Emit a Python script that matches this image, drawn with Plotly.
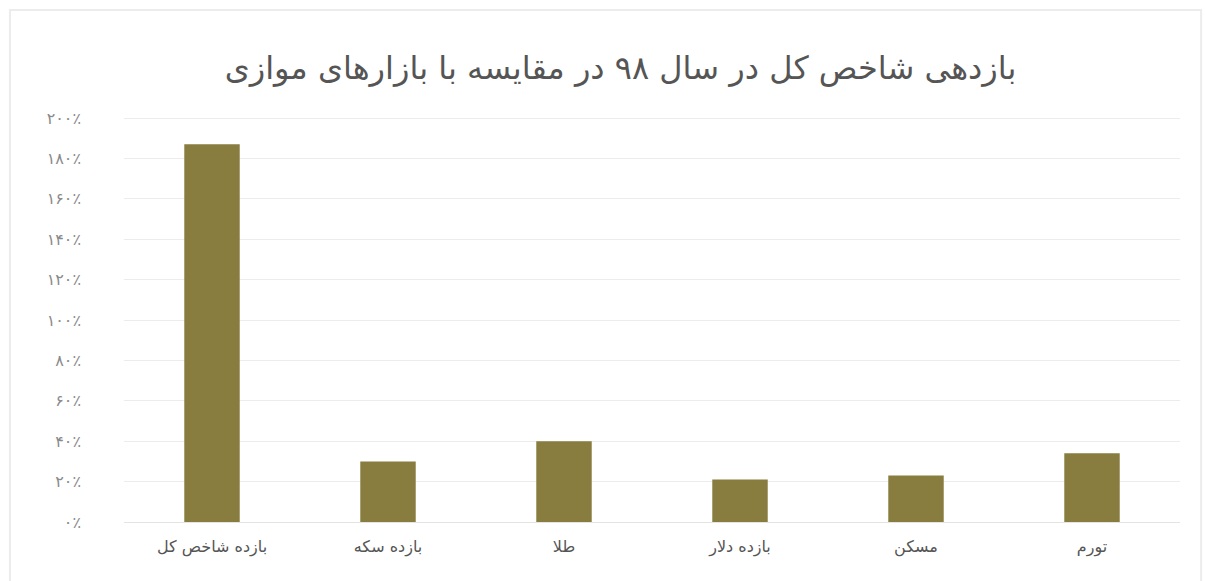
import plotly.graph_objects as go

categories = ["بازده شاخص کل", "بازده سکه", "طلا", "بازده دلار", "مسکن", "تورم"]
values = [187, 30, 40, 21, 23, 34]
tick_vals = [0, 20, 40, 60, 80, 100, 120, 140, 160, 180, 200]
tick_text = ["۰٪", "۲۰٪", "۴۰٪", "۶۰٪", "۸۰٪", "۱۰۰٪", "۱۲۰٪", "۱۴۰٪", "۱۶۰٪", "۱۸۰٪", "۲۰۰٪"]
title_text = "بازدهی شاخص کل در سال ۹۸ در مقایسه با بازارهای موازی"

FONT = "DejaVu Sans"

fig = go.Figure(go.Bar(
    x=categories, y=values,
    marker=dict(color="#887d3e", line=dict(width=0)),
    width=0.315,
))

fig.update_layout(
    width=1205, height=581,
    margin=dict(l=124, r=25, t=114, b=59),
    paper_bgcolor="white", plot_bgcolor="white",
    showlegend=False,
    title=dict(text=title_text, x=0.515, xanchor="center", y=0.883, yanchor="middle",
               font=dict(family=FONT, size=32, color="#555555")),
    font=dict(family=FONT),
)
fig.update_xaxes(
    showgrid=False, showline=True, linecolor="#e4e4e4", linewidth=1,
    ticks="", tickfont=dict(family=FONT, size=16, color="#555555"),
    range=[-0.5, 5.5], ticklabelstandoff=10,
)
fig.update_yaxes(
    range=[0, 202], tickvals=tick_vals, ticktext=tick_text,
    showgrid=True, gridcolor="#ececec", gridwidth=1, zeroline=False,
    ticks="", tickfont=dict(family=FONT, size=16, color="#8a8a8a"),
    ticklabelstandoff=42,
)
# faint outer frame of the chart area
fig.add_shape(type="rect", xref="paper", yref="paper",
              x0=-0.108, x1=1.02, y0=-0.2, y1=1.255,
              line=dict(color="#ececec", width=2), fillcolor="rgba(0,0,0,0)", layer="below")

fig.write_html("out.html")
